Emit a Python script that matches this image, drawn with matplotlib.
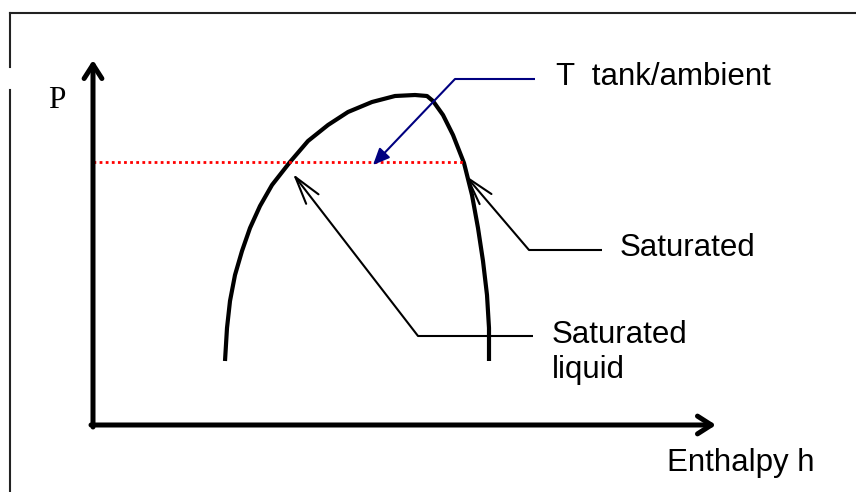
# Sketch of a P-h diagram: saturation dome, tank pressure line, labels

import matplotlib
matplotlib.use('Agg')
import matplotlib.pyplot as plt

# saturation dome (h, P in pixel-ish units from origin)
left_h = [132, 134, 137, 142, 149, 157, 167, 179, 197, 215, 235, 255, 279, 302, 322]
left_p = [64, 97, 124, 150, 174, 197, 219, 240, 263, 284, 300, 313, 323, 329, 330]
right_h = [334, 340, 350, 360, 371, 379, 385, 390, 394, 396, 396]
right_p = [329, 324, 310, 290, 262, 230, 197, 164, 130, 97, 64]

# tank / ambient pressure line
tank_p = 263
tank_h = [0, 370]

# axis extents
h_max = 623
p_max = 365

# label leaders: (text end) -> (knee) -> (arrow tip)
tank_leader = [(442, 346), (362, 346), (280, 260)]
vapour_leader = [(509, 175), (436, 175), (372, 250)]
liquid_leader = [(440, 89), (325, 89), (200, 251)]

sans = 'Liberation Sans'
serif = 'Liberation Serif'


def leader(ax, pts, color, style, lw, scale=20):
    (x0, y0), (x1, y1), (x2, y2) = pts
    ax.plot([x0, x1], [y0, y1], color=color, lw=lw, solid_capstyle='butt')
    ax.annotate('', xy=(x2, y2), xytext=(x1, y1),
                arrowprops=dict(arrowstyle=style, color=color, lw=lw,
                                shrinkA=0, shrinkB=0, mutation_scale=scale))


fig = plt.figure(figsize=(8.56, 4.92), dpi=100)
ax = fig.add_axes([0, 0, 1, 1])
ax.set_xlim(-93, 856 - 93)
ax.set_ylim(425 - 492, 425)
ax.axis('off')

# frame (left and top only, with a small break on the left)
ax.plot([-83, -83], [412, 358], color='#222222', lw=1.5)
ax.plot([-83, -83], [335, -67], color='#222222', lw=1.5)
ax.plot([-83, 763], [412, 412], color='#222222', lw=1.5)

# axes arrows
head = '->, head_length=0.5, head_width=0.32'
ax.annotate('', xy=(0, p_max), xytext=(0, -2),
            arrowprops=dict(arrowstyle=head, color='black', lw=3.6,
                            shrinkA=0, shrinkB=0, mutation_scale=20))
ax.annotate('', xy=(h_max, 0), xytext=(-2, 0),
            arrowprops=dict(arrowstyle=head, color='black', lw=3.6,
                            shrinkA=0, shrinkB=0, mutation_scale=20))

# dome
ax.plot(left_h + right_h, left_p + right_p, color='black', lw=3,
        solid_joinstyle='round', solid_capstyle='butt')

# tank pressure
ax.plot(tank_h, [tank_p, tank_p], color='red', lw=2, dashes=(1, 1.2))

leader(ax, tank_leader, '#000080', '-|>, head_length=0.5, head_width=0.22', 1.5)
leader(ax, vapour_leader, 'black', '->, head_length=1.0, head_width=0.28', 1.5)
leader(ax, liquid_leader, 'black', '->, head_length=1.0, head_width=0.28', 1.5)

ax.text(463, 340, 'T  tank/ambient', family=sans, fontsize=22.5, va='baseline')
ax.text(527, 169, 'Saturated', family=sans, fontsize=22.5, va='baseline')
ax.text(459, 82, 'Saturated', family=sans, fontsize=22.5, va='baseline')
ax.text(459, 47, 'liquid', family=sans, fontsize=22.5, va='baseline')
ax.text(574, -46, 'Enthalpy h', family=sans, fontsize=22.5, va='baseline')
ax.text(-45, 317, 'P', family=serif, fontsize=22.5, va='baseline')

fig.savefig('out.png', dpi=100)
